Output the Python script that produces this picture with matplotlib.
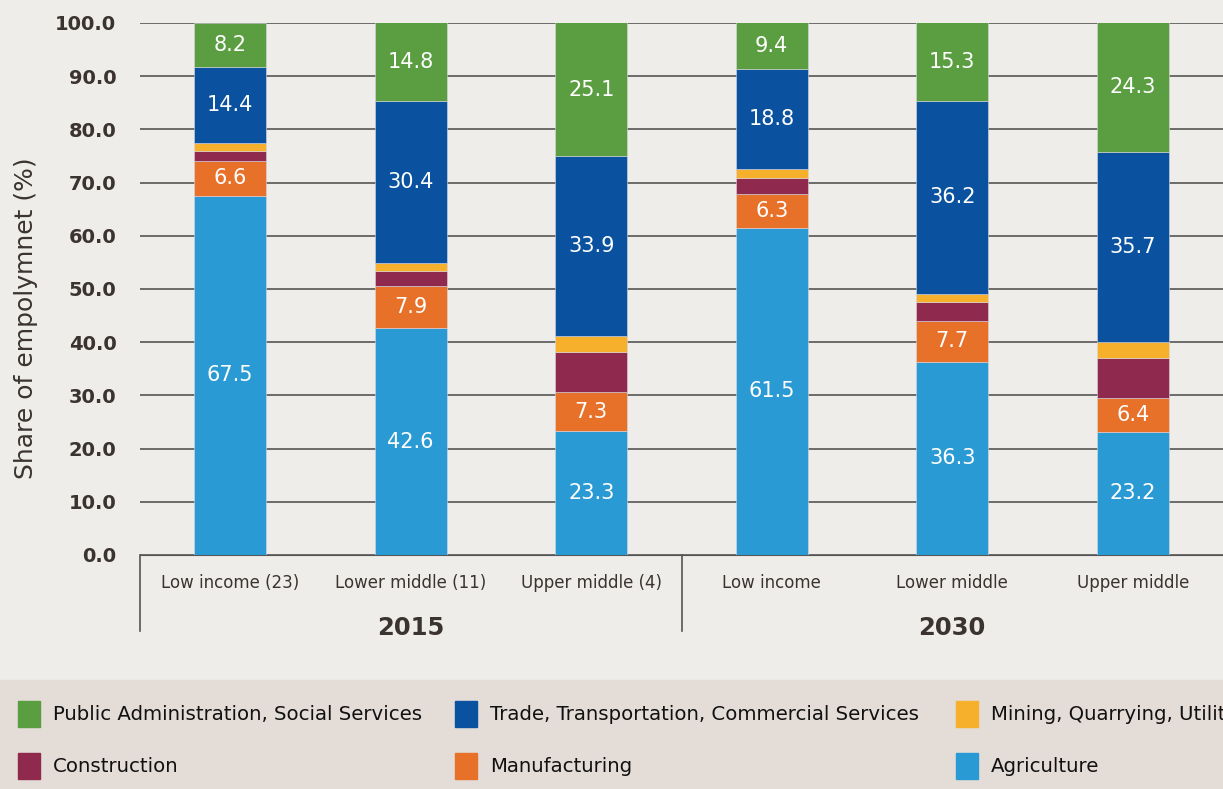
import matplotlib.pyplot as plt
from matplotlib.patches import Rectangle
import numpy as np

# categories (two years x three income groups)
categories = ["Low income (23)", "Lower middle (11)", "Upper middle (4)",
              "Low income", "Lower middle", "Upper middle"]
years = ["2015", "2030"]

# sector shares, bottom to top
agriculture = [67.5, 42.6, 23.3, 61.5, 36.3, 23.2]
manufacturing = [6.6, 7.9, 7.3, 6.3, 7.7, 6.4]
construction = [1.8, 2.8, 7.5, 3.0, 3.6, 7.5]
mining = [1.5, 1.6, 3.0, 1.7, 1.5, 3.0]
trade = [14.4, 30.4, 33.9, 18.8, 36.2, 35.7]
public = [8.2, 14.8, 25.1, 9.4, 15.3, 24.3]

series = [
    ("Agriculture", agriculture, "#2a9ad4", True),
    ("Manufacturing", manufacturing, "#e8712a", True),
    ("Construction", construction, "#8f2a4e", False),
    ("Mining, Quarrying, Utilities", mining, "#f7b02b", False),
    ("Trade, Transportation, Commercial Services", trade, "#0a52a0", True),
    ("Public Administration, Social Services", public, "#5a9e41", True),
]

bg = "#efedea"
fig = plt.figure(figsize=(12.23, 7.89), dpi=100, facecolor=bg)
ax = fig.add_axes([140 / 1223, 1 - 555 / 789, 1 - 140 / 1223, (555 - 23) / 789])
ax.set_facecolor(bg)

x = np.arange(len(categories))
bottom = np.zeros(len(categories))
for name, vals, color, labelled in series:
    vals = np.array(vals)
    bars = ax.bar(x, vals, 0.4, bottom=bottom, color=color, zorder=3,
                  edgecolor="#d8d8e0", linewidth=0.4)
    if labelled:
        # keep labels centred on the visible part of the segment
        ypos = (bottom + np.minimum(bottom + vals, 100)) / 2
        for xi, yi, v in zip(x, ypos, vals):
            ax.text(xi, yi, f"{v:.1f}", ha="center", va="center",
                    color="white", fontsize=15, zorder=4)
    bottom += vals

ax.set_xlim(-0.5, len(categories) - 0.5)
ax.set_ylim(0, 100)
ax.set_yticks(np.arange(0, 101, 10))
ax.set_yticklabels([f"{v:.1f}" for v in np.arange(0, 101, 10)],
                   fontsize=14, fontweight="bold", color="#3a3330")
ax.yaxis.grid(True, color="#555555", linewidth=1.2, zorder=0)
ax.tick_params(axis="y", length=0, pad=17)
ax.tick_params(axis="x", length=0, pad=14)
ax.set_xticks(x)
ax.set_xticklabels(categories, fontsize=12, color="#3a3330")
for s in ["top", "right", "left"]:
    ax.spines[s].set_visible(False)
ax.spines["bottom"].set_color("#555555")
ax.set_ylabel("Share of empolymnet (%)", fontsize=18, color="#3a3330")
ax.yaxis.set_label_coords(-0.094, 0.445)

# year group labels and separators
for i, yr in enumerate(years):
    ax.text(1 + 3 * i, -13.8, yr, ha="center", va="center", fontsize=17.5,
            fontweight="bold", color="#3a3330", transform=ax.transData)
for xs in [-0.5, 2.5]:
    ax.plot([xs, xs], [0, -14.2], color="#555555", linewidth=1.2, clip_on=False)

# legend band
fig.patches.append(Rectangle((0, 0), 1, 109 / 789, transform=fig.transFigure,
                             color="#e3dcd7", zorder=0))
legend_order = [5, 4, 3, 2, 1, 0]
col_x = [18, 455, 956]
row_y = [714, 766]
for k, idx in enumerate(legend_order):
    name, _, color, _ = series[idx]
    cx = col_x[k % 3]
    ry = row_y[k // 3]
    fig.patches.append(Rectangle((cx / 1223, 1 - (ry + 13) / 789), 22 / 1223, 26 / 789,
                                 transform=fig.transFigure, color=color))
    fig.text((cx + 35) / 1223, 1 - ry / 789, name, fontsize=14.2, va="center",
             ha="left", color="#111111")

fig.savefig("out.png", dpi=100, facecolor=bg)
